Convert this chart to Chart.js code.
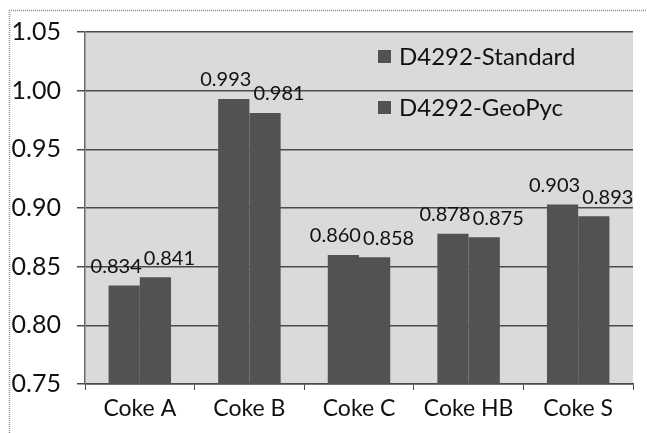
<!DOCTYPE html>
<html>
<head>
<meta charset="utf-8">
<script src="https://cdn.jsdelivr.net/npm/chart.js@4.4.0/dist/chart.umd.min.js"></script>
<style>
  html, body { margin: 0; padding: 0; background: #fff; }
  #wrap { width: 647px; height: 433px; position: relative; }
</style>
</head>
<body>
<div id="wrap"><canvas id="myChart" width="647" height="433"></canvas></div>
<script>
(function () {
    'use strict'

    // values
    const categories = ['Coke A', 'Coke B', 'Coke C', 'Coke HB', 'Coke S']
    const seriesNames = ['D4292-Standard', 'D4292-GeoPyc']
    const standard = [0.834, 0.993, 0.860, 0.878, 0.903]
    const geoPyc = [0.841, 0.981, 0.858, 0.875, 0.893]
    const yTicks = [0.75, 0.80, 0.85, 0.90, 0.95, 1.00, 1.05]

    const barColor = '#525252'
    const plotBg = '#dadada'
    const gridColor = '#4a4a4a'

    // grey plot area + dotted outer frame
    const backdrop = {
        id: 'backdrop',
        beforeDraw(chart) {
            const c = chart.ctx
            const a = chart.chartArea
            c.save()
            c.fillStyle = plotBg
            c.fillRect(a.left, a.top, a.right - a.left, a.bottom - a.top)
            c.strokeStyle = '#8a8a8a'
            c.lineWidth = 1.5
            c.setLineDash([1, 1])
            c.beginPath()
            c.moveTo(9.5, 433)
            c.lineTo(9.5, 10.5)
            c.lineTo(647, 10.5)
            c.stroke()
            c.restore()
        }
    }

    // value labels above the bars
    const valueLabels = {
        id: 'valueLabels',
        afterDatasetsDraw(chart) {
            const c = chart.ctx
            const shift = [-8, 14]
            c.save()
            c.font = '20px Lato'
            c.fillStyle = '#111'
            c.textAlign = 'center'
            c.textBaseline = 'bottom'
            chart.data.datasets.forEach((ds, i) => {
                chart.getDatasetMeta(i).data.forEach((bar, j) => {
                    c.fillText(ds.data[j].toFixed(3), bar.x + shift[i], bar.y - 9)
                })
            })
            c.restore()
        }
    }

    // legend inside the plot, stacked with wide spacing
    const innerLegend = {
        id: 'innerLegend',
        afterDraw(chart) {
            const c = chart.ctx
            const a = chart.chartArea
            c.save()
            c.font = '24px Lato'
            c.textBaseline = 'middle'
            chart.data.datasets.forEach((ds, i) => {
                const y = a.top + 25 + i * 51
                const x = a.left + 293
                c.fillStyle = ds.backgroundColor
                c.fillRect(x, y - 7, 13, 13)
                c.fillStyle = '#111'
                c.fillText(ds.label, x + 21, y)
            })
            c.restore()
        }
    }

    const data = {
        labels: categories,
        datasets: [
            {label: seriesNames[0], data: standard, backgroundColor: barColor},
            {label: seriesNames[1], data: geoPyc, backgroundColor: barColor}
        ]
    }

    const config = {
        type: 'bar',
        data: data,
        options: {
            responsive: false,
            animation: false,
            devicePixelRatio: 1,
            layout: { padding: { top: 32, right: 14, left: 0, bottom: 0 } },
            datasets: {
                bar: { categoryPercentage: 0.57, barPercentage: 1.0 }
            },
            plugins: {
                legend: { display: false },
                tooltip: { enabled: false }
            },
            scales: {
                x: {
                    grid: {
                        drawOnChartArea: false,
                        drawTicks: true,
                        tickLength: 6,
                        color: gridColor
                    },
                    border: { display: true, color: gridColor, width: 1.5 },
                    ticks: {
                        color: '#111',
                        font: { family: 'Lato', size: 23 },
                        padding: 5
                    },
                    afterFit(scale) { scale.height = 49 }
                },
                y: {
                    min: 0.75,
                    max: 1.05,
                    afterBuildTicks(scale) {
                        scale.ticks = yTicks.map(v => ({value: v}))
                    },
                    grid: {
                        color: gridColor,
                        lineWidth: 1.5,
                        tickLength: 8
                    },
                    border: { display: true, color: '#6a6a6a', width: 1.5 },
                    ticks: {
                        color: '#111',
                        font: { family: 'Lato', size: 25 },
                        padding: 16,
                        callback: v => v.toFixed(2)
                    },
                    afterFit(scale) { scale.width = 85 }
                }
            }
        },
        plugins: [backdrop, valueLabels, innerLegend]
    }

    const myChart = new Chart(
        document.getElementById('myChart'),
        config
    )
})()
</script>
</body>
</html>
